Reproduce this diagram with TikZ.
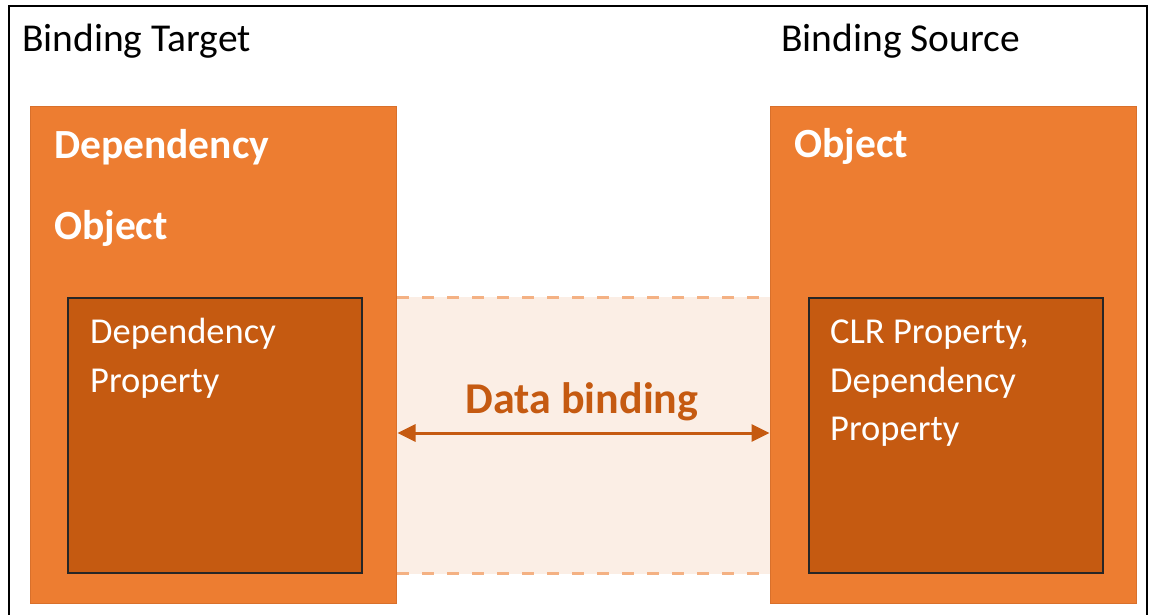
\documentclass[tikz,border=0pt]{standalone}
\usepackage{fontspec}
\setmainfont{Carlito}
\usetikzlibrary{arrows.meta}
\definecolor{orangeA}{HTML}{ED7D31}
\definecolor{orangeEdge}{HTML}{D9702B}
\definecolor{orangeB}{HTML}{C55A11}
\definecolor{orangeL}{HTML}{F4B183}
\definecolor{bandfill}{HTML}{FBEEE5}
\begin{document}
\begin{tikzpicture}[x=1pt,y=-1pt,
  outerbox/.style={draw=orangeEdge, line width=1pt, fill=orangeA, anchor=north west, inner sep=0, minimum width=366pt, minimum height=497pt},
  innerbox/.style={draw=black!85, line width=1.6pt, fill=orangeB, anchor=north west, inner sep=0, minimum width=294pt, minimum height=275pt},
  plain/.style={anchor=base west, inner sep=0, font=\fontsize{39.5}{46}\selectfont},
  heading/.style={anchor=base west, inner sep=0, text=white, font=\fontsize{41.5}{48}\selectfont\bfseries},
  body/.style={anchor=base west, inner sep=0, text=white, font=\fontsize{36.5}{44}\selectfont},
  bandline/.style={draw=orangeL, line width=3pt, dash pattern=on 12pt off 13pt}
]
\useasboundingbox (0,0) rectangle (1150,615);
\fill[white] (0,0) rectangle (1150,615);
% outer frame
\draw[line width=2.2pt, black] (9,620) -- (9,6) -- (1147,6) -- (1147,620);

% boxes
\node[outerbox] (objL) at (30,106) {};
\node[outerbox] (objR) at (770,106) {};
\node[innerbox] (propL) at (67,297) {};
\node[innerbox] (propR) at (808,297) {};

% band
\fill[bandfill] (objL.east |- propL.north) rectangle (objR.west |- propL.south);
\draw[bandline] (objL.east |- propL.north) -- (objR.west |- propL.north);
\draw[bandline] (objL.east |- propL.south) -- (objR.west |- propL.south);

% titles
\node[plain] (tgt) at (22,52) {Binding Target};
\node[plain] (src) at (781,52) {Binding Source};

% headings
\node[heading] (h1) at (54,158) {Dependency};
\node[heading] (h2) at (54,239) {Object};
\node[heading] (h3) at (794,157) {Object};

% inner texts
\node[body] (l1) at (90,343) {Dependency};
\node[body] (l2) at (90,392) {Property};
\node[body] (r1) at (830,343) {CLR Property,};
\node[body] (r2) at (830,392) {Dependency};
\node[body] (r3) at (830,440) {Property};

% arrow
\coordinate (ay) at (0,433);
\draw[orangeB, line width=3pt, {Triangle[length=18pt,width=17pt]}-{Triangle[length=18pt,width=17pt]}, shorten <=0.5pt, shorten >=0.5pt]
  (objL.east |- ay) -- (objR.west |- ay);
\node[anchor=base, inner sep=0, text=orangeB, font=\fontsize{44}{50}\selectfont\bfseries] (db) at (582,413) {Data binding};
\end{tikzpicture}
\end{document}
